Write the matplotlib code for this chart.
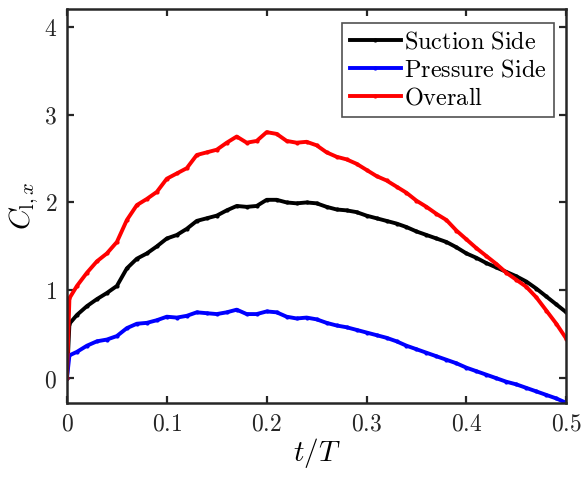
import numpy as np
import matplotlib
matplotlib.use("Agg")
import matplotlib.pyplot as plt
from matplotlib.ticker import FixedLocator, FuncFormatter

plt.rcParams['mathtext.fontset'] = 'cm'
plt.rcParams['font.family'] = 'serif'
plt.rcParams['font.serif'] = ['DejaVu Serif']

# time samples t/T
t = [0.0, 0.0025] + [round(0.01 * i, 2) for i in range(1, 51)]

# suction side
suction = [0.0, 0.62, 0.72, 0.82, 0.90, 0.97, 1.05, 1.25, 1.36, 1.42, 1.50,
           1.59, 1.63, 1.70, 1.79, 1.82, 1.85, 1.91, 1.96, 1.95, 1.96,
           2.03, 2.03, 2.00, 1.99, 2.00, 1.99, 1.95, 1.92, 1.91, 1.89,
           1.85, 1.82, 1.79, 1.76, 1.72, 1.67, 1.63, 1.59, 1.55, 1.49,
           1.42, 1.37, 1.31, 1.26, 1.21, 1.16, 1.10, 1.02, 0.93, 0.84, 0.75]

# pressure side
pressure = [0.0, 0.26, 0.30, 0.37, 0.42, 0.44, 0.48, 0.57, 0.62, 0.63, 0.66,
            0.70, 0.69, 0.71, 0.75, 0.74, 0.73, 0.75, 0.78, 0.73, 0.73,
            0.76, 0.75, 0.70, 0.68, 0.69, 0.67, 0.63, 0.60, 0.58, 0.55,
            0.52, 0.49, 0.46, 0.42, 0.37, 0.33, 0.29, 0.25, 0.21, 0.17,
            0.12, 0.08, 0.04, 0.00, -0.04, -0.07, -0.11, -0.15, -0.19, -0.23, -0.28]

# overall
overall = [0.0, 0.91, 1.05, 1.20, 1.33, 1.42, 1.55, 1.80, 1.97, 2.04, 2.12,
           2.27, 2.33, 2.39, 2.54, 2.57, 2.60, 2.68, 2.75, 2.68, 2.70,
           2.80, 2.78, 2.70, 2.68, 2.69, 2.65, 2.57, 2.52, 2.49, 2.44,
           2.37, 2.30, 2.25, 2.18, 2.11, 2.02, 1.95, 1.87, 1.80, 1.68,
           1.58, 1.48, 1.39, 1.30, 1.20, 1.12, 1.04, 0.92, 0.77, 0.62, 0.45]

xticks = [0, 0.1, 0.2, 0.3, 0.4, 0.5]
yticks = [0, 1, 2, 3, 4]

fig = plt.figure(figsize=(5.82, 4.79), dpi=100)
ax = fig.add_axes([0.115, 0.159, 0.858, 0.822])

ax.plot(t, suction, '.-', color='black', lw=2.8, ms=4, label=r'$\mathrm{Suction\ Side}$')
ax.plot(t, pressure, '.-', color='blue', lw=2.8, ms=4, label=r'$\mathrm{Pressure\ Side}$')
ax.plot(t, overall, '.-', color='red', lw=2.8, ms=4, label=r'$\mathrm{Overall}$')

ax.set_xlim(0, 0.5)
ax.set_ylim(-0.28, 4.2)
ax.xaxis.set_major_locator(FixedLocator(xticks))
ax.yaxis.set_major_locator(FixedLocator(yticks))
ax.xaxis.set_major_formatter(FuncFormatter(lambda v, p: '$%g$' % v))
ax.yaxis.set_major_formatter(FuncFormatter(lambda v, p: '$%g$' % v))
ax.tick_params(direction='in', length=5, width=1.6, top=True, right=True,
               labelsize=17, colors='#262626', pad=7)
for s in ax.spines.values():
    s.set_linewidth(1.8)
    s.set_color('#262626')

ax.set_xlabel(r'$t/T$', fontsize=21, labelpad=0)
ax.set_ylabel(r'$C_{\mathrm{l},x}$', fontsize=21, labelpad=2)

leg = ax.legend(loc='upper right', bbox_to_anchor=(0.976, 0.965), fontsize=17.5,
                frameon=True, fancybox=False, edgecolor='#262626',
                borderpad=0.3, labelspacing=0.22,
                handlelength=2.1, handletextpad=0.15, borderaxespad=0)
leg.get_frame().set_linewidth(1.2)

fig.savefig('out.png', dpi=100)
